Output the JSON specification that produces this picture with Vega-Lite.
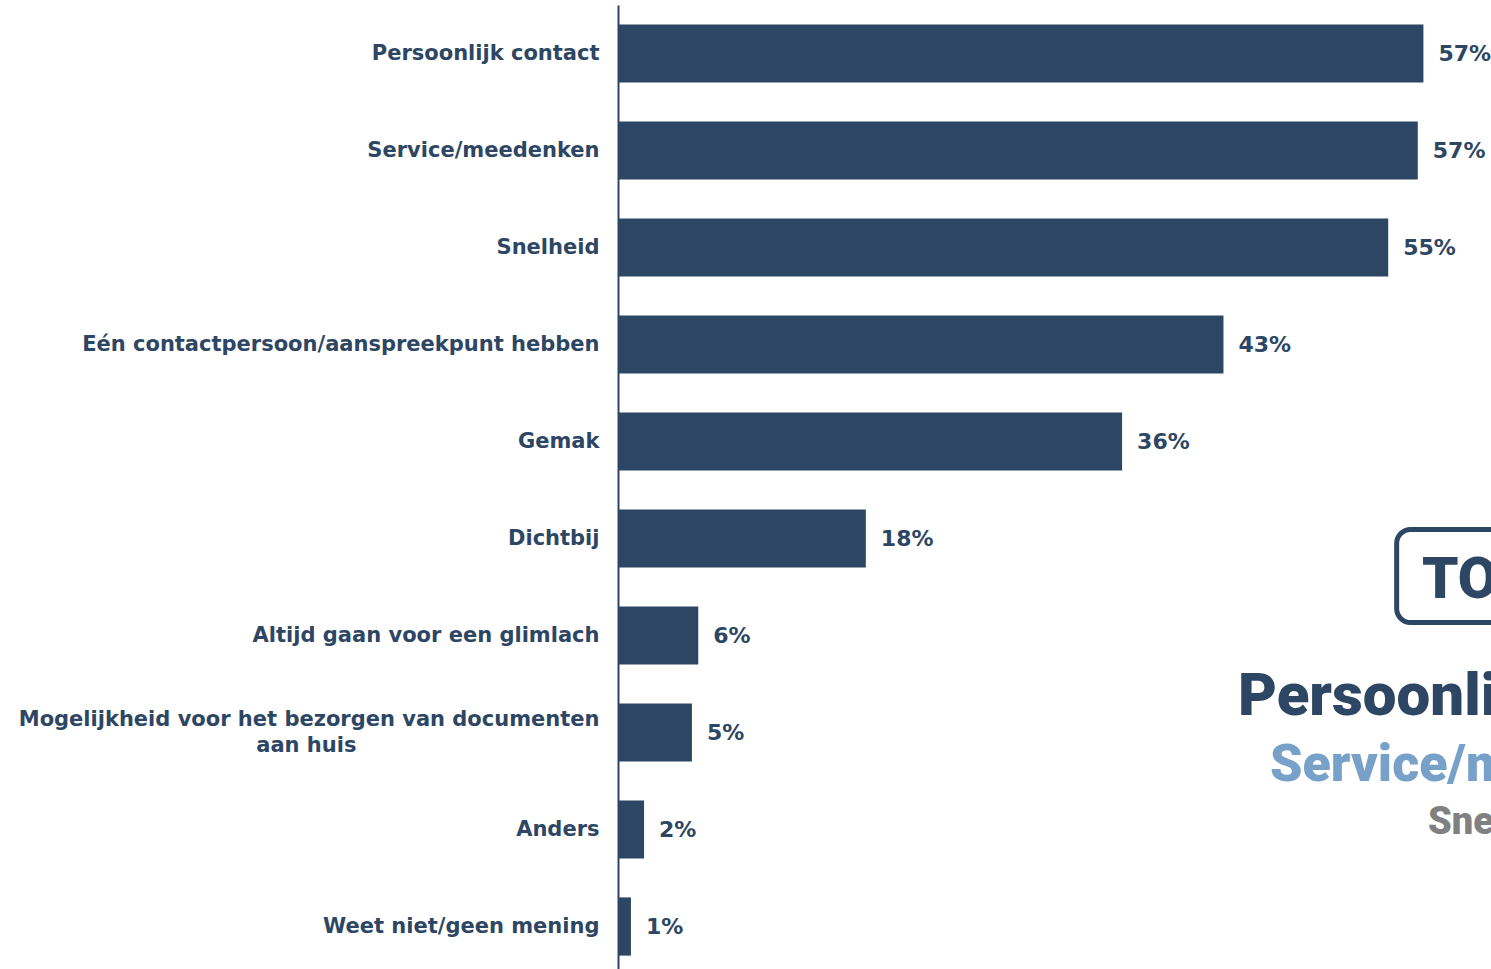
{
  "$schema": "https://vega.github.io/schema/vega-lite/v6.json",
  "autosize": {"type": "none"},
  "padding": {"left": 618, "top": 5, "right": 0, "bottom": 0},
  "width": 873,
  "height": 970,
  "background": "white",
  "config": {"view": {"stroke": null}},
  "layer": [
    {
      "data": {"values": [
        {"cat": "Persoonlijk contact", "value": 57.2, "label": "57%"},
        {"cat": "Service/meedenken", "value": 56.8, "label": "57%"},
        {"cat": "Snelheid", "value": 54.7, "label": "55%"},
        {"cat": "Eén contactpersoon/aanspreekpunt hebben", "value": 43.0, "label": "43%"},
        {"cat": "Gemak", "value": 35.8, "label": "36%"},
        {"cat": "Dichtbij", "value": 17.6, "label": "18%"},
        {"cat": "Altijd gaan voor een glimlach", "value": 5.7, "label": "6%"},
        {"cat": "Mogelijkheid voor het bezorgen van documenten aan huis", "value": 5.25, "label": "5%"},
        {"cat": "Anders", "value": 1.85, "label": "2%"},
        {"cat": "Weet niet/geen mening", "value": 0.92, "label": "1%"}
      ]},
      "encoding": {
        "y": {
          "field": "cat", "type": "nominal", "sort": null,
          "scale": {"paddingInner": 0.4, "paddingOuter": 0.2},
          "axis": {
            "title": null, "ticks": false, "domainColor": "#2d4663", "domainWidth": 2,
            "labelFont": "DejaVu Sans", "labelFontWeight": "bold", "labelFontSize": 21,
            "labelColor": "#2d4663", "labelPadding": 19, "labelLimit": 700,
            "labelLineHeight": 26,
            "labelOffset": {"condition": {"test": "datum.value == 'Mogelijkheid voor het bezorgen van documenten aan huis'", "value": -13}, "value": 0},
            "labelExpr": "datum.value == 'Mogelijkheid voor het bezorgen van documenten aan huis' ? ['Mogelijkheid voor het bezorgen van documenten', 'aan huis\u00a0\u00a0\u00a0\u00a0\u00a0\u00a0\u00a0\u00a0\u00a0\u00a0\u00a0\u00a0\u00a0\u00a0\u00a0\u00a0\u00a0\u00a0\u00a0\u00a0\u00a0\u00a0\u00a0\u00a0\u00a0\u00a0\u00a0\u00a0\u00a0\u00a0\u00a0\u2800'] : datum.value"
          }
        },
        "x": {
          "field": "value", "type": "quantitative",
          "scale": {"domain": [0, 62], "nice": false, "zero": true},
          "axis": null
        }
      },
      "layer": [
        {"mark": {"type": "bar", "color": "#2d4663"}},
        {
          "mark": {"type": "text", "align": "left", "baseline": "middle", "dx": 15,
                   "font": "DejaVu Sans", "fontWeight": "bold", "fontSize": 22, "color": "#2d4663"},
          "encoding": {"text": {"field": "label"}}
        }
      ]
    },
    {
      "data": {"values": [{}]},
      "layer": [
        {
          "mark": {"type": "rect", "fill": "white", "fillOpacity": 0, "stroke": "#2d4663", "strokeWidth": 5, "cornerRadius": 14},
          "encoding": {
            "x": {"datum": 55.3, "type": "quantitative", "scale": {"domain": [0, 62], "nice": false}},
            "x2": {"datum": 75},
            "y": {"datum": 5.407, "type": "quantitative", "scale": {"domain": [0, 10], "reverse": true, "nice": false, "zero": false}, "axis": null},
            "y2": {"datum": 6.366}
          }
        },
        {
          "mark": {"type": "text", "text": "TOP 3", "align": "left", "baseline": "alphabetic", "font": "Roboto", "fontWeight": 900, "fontSize": 58, "color": "#2d4663"},
          "encoding": {
            "x": {"datum": 57.1, "type": "quantitative", "scale": {"domain": [0, 62], "nice": false}},
            "y": {"datum": 6.113, "type": "quantitative", "axis": null}
          }
        },
        {
          "mark": {"type": "text", "text": "Persoonlijk contact", "align": "left", "baseline": "alphabetic", "font": "Roboto", "fontWeight": 900, "fontSize": 60, "color": "#2d4663"},
          "encoding": {
            "x": {"datum": 44.03, "type": "quantitative", "scale": {"domain": [0, 62], "nice": false}},
            "y": {"datum": 7.32, "type": "quantitative", "axis": null}
          }
        },
        {
          "mark": {"type": "text", "text": "Service/meedenken", "align": "left", "baseline": "alphabetic", "font": "Roboto", "fontWeight": 900, "fontSize": 52, "color": "#78a1c9"},
          "encoding": {
            "x": {"datum": 46.3, "type": "quantitative", "scale": {"domain": [0, 62], "nice": false}},
            "y": {"datum": 8.0, "type": "quantitative", "axis": null}
          }
        },
        {
          "mark": {"type": "text", "text": "Snelheid", "align": "left", "baseline": "alphabetic", "font": "Roboto", "fontWeight": 900, "fontSize": 38, "color": "#808080"},
          "encoding": {
            "x": {"datum": 57.53, "type": "quantitative", "scale": {"domain": [0, 62], "nice": false}},
            "y": {"datum": 8.546, "type": "quantitative", "axis": null}
          }
        }
      ]
    }
  ],
  "resolve": {"scale": {"y": "independent"}, "axis": {"y": "independent"}}
}
